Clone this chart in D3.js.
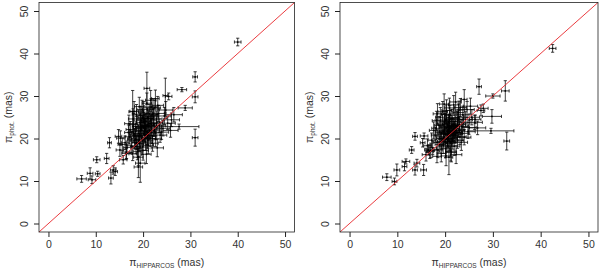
<!DOCTYPE html>
<html>
<head>
<meta charset="utf-8">
<script src="https://cdn.jsdelivr.net/npm/d3@7"></script>
<style>
  body { margin: 0; background: #fff; }
  svg { display: block; font-family: "Liberation Sans", Arial, sans-serif; }
</style>
</head>
<body>
<svg></svg>
<script>
// [x, y, xErr, yErr] in mas
const leftStars = [
  [40.0, 42.7, 0.7, 0.9], [31.0, 34.5, 0.5, 1.2], [31.0, 29.8, 0.6, 1.4], [31.0, 20.2, 0.6, 2.0],
  [28.2, 31.5, 1.0, 0.5], [20.8, 31.8, 0.6, 3.8], [28.9, 27.2, 1.5, 0.6], [27.6, 22.8, 4.2, 0.6],
  [24.7, 30.1, 0.5, 4.1], [22.6, 29.4, 0.8, 2.0], [17.8, 26.3, 0.8, 5.0], [25.4, 29.9, 0.7, 0.8],
  [7.0, 10.5, 1.0, 0.8], [10.2, 15.0, 0.7, 0.7], [8.8, 11.8, 0.6, 1.3], [9.2, 10.3, 0.8, 0.9],
  [10.4, 11.7, 0.5, 0.6], [12.3, 15.3, 0.5, 1.2], [12.9, 19.0, 0.4, 1.2], [13.2, 10.7, 0.5, 1.4],
  [13.7, 12.6, 0.6, 1.0], [14.1, 12.2, 0.5, 0.9], [14.8, 20.5, 0.7, 1.6], [15.1, 17.3, 0.8, 1.5],
  [15.8, 15.0, 0.8, 1.0], [16.5, 16.5, 1.0, 1.2], [19.0, 13.3, 0.9, 2.5], [19.4, 14.2, 1.0, 4.5],
  [18.2, 19.5, 0.9, 1.8], [19.1, 21.2, 1.1, 2.0], [20.3, 22.4, 0.8, 1.6], [21.0, 23.1, 1.2, 2.2],
  [19.7, 20.1, 1.0, 1.9], [20.8, 21.6, 0.9, 1.7], [18.7, 22.8, 1.0, 2.4], [21.6, 24.3, 1.3, 2.1],
  [22.4, 22.0, 1.1, 1.5], [17.5, 18.3, 0.9, 1.6], [19.9, 24.9, 1.0, 2.3], [20.5, 19.2, 1.2, 2.0],
  [21.9, 20.6, 1.0, 1.8], [18.9, 17.6, 0.8, 2.1], [22.8, 24.6, 1.2, 1.9], [17.1, 20.4, 0.9, 1.7],
  [20.1, 26.2, 1.1, 2.5], [23.4, 23.0, 1.4, 1.6], [19.4, 23.8, 0.9, 2.0], [21.3, 25.8, 1.0, 2.2],
  [16.6, 17.9, 0.8, 1.5], [18.4, 21.7, 1.0, 1.9], [20.9, 20.3, 1.1, 1.7], [22.1, 26.9, 1.3, 2.4],
  [19.2, 18.8, 0.9, 1.8], [23.9, 21.5, 1.5, 1.7], [17.8, 16.4, 0.8, 1.6], [20.6, 24.0, 1.0, 1.8],
  [21.8, 22.7, 1.2, 2.0], [18.0, 23.3, 0.9, 2.6], [19.6, 22.3, 1.0, 1.9], [22.6, 19.9, 1.3, 1.8],
  [16.2, 19.0, 0.8, 1.6], [20.0, 17.2, 1.1, 2.3], [21.4, 21.9, 1.0, 1.6], [24.5, 25.3, 1.4, 2.0],
  [18.6, 25.7, 0.9, 2.3], [17.3, 22.1, 0.9, 1.9], [23.1, 27.8, 1.2, 2.1], [19.0, 15.6, 1.0, 2.0],
  [20.4, 23.0, 0.9, 1.7], [21.1, 18.4, 1.1, 2.0], [22.9, 23.8, 1.2, 1.8], [18.3, 20.6, 1.0, 1.7],
  [19.8, 26.8, 1.1, 2.2], [25.2, 23.6, 1.6, 1.5], [16.9, 21.4, 0.8, 1.8], [21.7, 27.4, 1.3, 2.0],
  [20.2, 21.0, 1.0, 1.8], [23.6, 20.8, 1.4, 1.7], [19.3, 19.7, 0.9, 1.9], [22.2, 25.1, 1.1, 2.1],
  [17.9, 24.6, 1.0, 2.4], [24.2, 22.4, 1.5, 1.8], [20.7, 16.3, 1.0, 2.2], [15.6, 18.6, 0.9, 1.5],
  [26.0, 24.4, 1.7, 1.6], [18.5, 18.1, 0.9, 1.7], [21.5, 20.0, 1.2, 1.9], [19.5, 25.4, 1.0, 2.2],
  [22.7, 21.3, 1.1, 1.6], [16.4, 16.8, 0.8, 1.7], [20.8, 28.3, 1.0, 2.4], [23.3, 25.9, 1.3, 1.9],
  [17.6, 19.9, 0.9, 1.8], [21.2, 24.7, 1.1, 2.0], [19.9, 18.0, 1.0, 1.8], [24.8, 26.7, 1.4, 2.0],
  [18.1, 26.4, 0.9, 2.3], [22.0, 18.9, 1.2, 1.9], [25.8, 21.9, 1.6, 1.6], [20.0, 22.9, 1.0, 1.8],
  [15.2, 20.1, 0.8, 1.7], [23.0, 17.8, 1.3, 2.1], [21.6, 29.0, 1.1, 2.3], [26.5, 25.6, 1.8, 1.7],
  [18.8, 16.9, 0.9, 1.9], [19.2, 27.5, 1.0, 2.2], [17.0, 23.5, 0.9, 2.0], [22.5, 27.2, 1.2, 1.8],
  [19.5, 21.9, 1.0, 1.8], [20.6, 22.8, 1.1, 1.9], [21.2, 21.4, 1.0, 1.7], [19.0, 20.6, 0.9, 1.8],
  [20.3, 23.7, 1.0, 2.0], [21.7, 23.4, 1.2, 1.9], [18.6, 19.1, 0.9, 1.7], [20.9, 25.1, 1.0, 2.1],
  [22.3, 23.5, 1.2, 1.8], [19.6, 24.3, 1.0, 2.2], [20.4, 20.7, 1.1, 1.8], [21.9, 25.6, 1.2, 2.0],
  [18.0, 21.0, 0.9, 1.9], [19.4, 22.6, 1.0, 2.0], [21.0, 19.6, 1.1, 1.9], [20.1, 24.6, 1.0, 2.1]
];

const rightStars = [
  [42.5, 41.2, 0.7, 0.9], [32.6, 31.2, 0.8, 2.4], [32.9, 19.4, 0.6, 2.1], [30.0, 30.0, 1.5, 0.5],
  [29.8, 25.2, 2.0, 1.6], [29.6, 21.8, 4.8, 0.6], [27.1, 32.2, 0.5, 1.8], [28.0, 27.1, 1.0, 1.0],
  [24.0, 29.2, 0.6, 2.3], [20.8, 15.6, 0.8, 4.1], [7.8, 10.9, 0.9, 0.8], [9.4, 9.9, 0.5, 0.8],
  [9.9, 12.6, 0.6, 1.4], [11.8, 14.6, 0.8, 0.6], [11.5, 13.4, 0.5, 1.0], [13.0, 17.3, 0.5, 0.8],
  [13.7, 20.5, 0.5, 0.9], [15.6, 20.6, 0.8, 0.7], [13.7, 12.6, 0.5, 1.2], [15.5, 12.6, 0.6, 1.3],
  [14.1, 14.2, 0.6, 0.9], [15.3, 19.0, 0.5, 1.0], [16.5, 17.3, 0.8, 1.2], [18.3, 15.8, 0.9, 1.5],
  [27.5, 26.6, 0.8, 1.3], [26.3, 24.5, 1.2, 1.0],
  [20.5, 21.8, 1.0, 1.9], [21.3, 22.6, 1.1, 2.1], [19.8, 20.4, 0.9, 1.8], [22.1, 24.0, 1.2, 2.0],
  [20.9, 19.3, 1.0, 2.2], [18.9, 21.5, 0.9, 1.7], [21.7, 20.7, 1.1, 1.8], [23.0, 23.3, 1.3, 1.9],
  [19.4, 23.4, 1.0, 2.3], [22.4, 21.4, 1.2, 1.6], [20.1, 17.6, 1.0, 2.1], [18.3, 19.1, 0.8, 1.7],
  [21.0, 25.4, 1.1, 2.4], [23.6, 21.2, 1.4, 1.7], [19.6, 18.4, 0.9, 1.9], [22.8, 26.1, 1.2, 2.0],
  [20.7, 23.9, 1.0, 1.8], [17.4, 17.8, 0.8, 1.6], [21.9, 18.2, 1.2, 2.2], [24.3, 24.5, 1.4, 1.8],
  [18.7, 23.1, 0.9, 2.1], [20.3, 26.6, 1.0, 2.5], [22.6, 19.6, 1.2, 1.9], [19.2, 16.5, 0.9, 2.0],
  [21.5, 23.0, 1.1, 1.7], [25.0, 22.6, 1.5, 1.6], [17.9, 20.8, 0.8, 1.8], [23.2, 27.3, 1.3, 2.1],
  [20.0, 21.0, 1.0, 1.9], [21.2, 17.0, 1.1, 2.3], [18.1, 22.4, 0.9, 2.0], [22.0, 22.3, 1.1, 1.7],
  [24.0, 20.3, 1.4, 1.8], [19.0, 25.0, 1.0, 2.3], [20.6, 20.0, 1.0, 1.8], [16.8, 16.9, 0.8, 1.6],
  [23.7, 25.6, 1.3, 2.0], [21.8, 27.9, 1.1, 2.2], [19.9, 22.7, 1.0, 1.9], [22.3, 16.2, 1.2, 2.1],
  [17.2, 19.6, 0.8, 1.7], [26.2, 23.8, 1.6, 1.7], [20.4, 18.9, 1.0, 2.0], [21.4, 24.8, 1.1, 2.0],
  [18.5, 17.3, 0.9, 1.8], [22.9, 22.0, 1.2, 1.7], [19.5, 26.3, 1.0, 2.4], [24.6, 26.8, 1.5, 1.9],
  [20.8, 22.2, 1.0, 1.8], [16.3, 18.3, 0.8, 1.6], [23.4, 19.1, 1.3, 1.9], [21.1, 21.2, 1.0, 1.7],
  [18.2, 24.2, 0.9, 2.2], [25.6, 25.0, 1.6, 1.8], [19.7, 19.9, 1.0, 1.9], [22.2, 28.6, 1.2, 2.3],
  [20.2, 15.9, 1.0, 2.3], [21.6, 19.4, 1.1, 1.9], [17.6, 21.9, 0.9, 2.0], [23.9, 23.7, 1.3, 1.8],
  [19.3, 21.3, 0.9, 1.8], [22.7, 24.9, 1.2, 2.0], [20.9, 27.2, 1.0, 2.3], [24.8, 21.6, 1.5, 1.6],
  [18.8, 18.6, 0.9, 1.8], [21.9, 21.7, 1.1, 1.7], [17.0, 17.2, 0.8, 1.7], [23.1, 20.4, 1.3, 1.8],
  [20.0, 24.3, 1.0, 2.1], [26.8, 22.5, 1.7, 1.6], [19.1, 20.0, 0.9, 1.9], [22.5, 23.1, 1.2, 1.8],
  [21.3, 16.7, 1.1, 2.2], [18.4, 25.8, 0.9, 2.4], [25.3, 27.6, 1.5, 1.9], [20.6, 23.2, 1.0, 1.8],
  [16.0, 16.2, 0.8, 1.5], [23.5, 22.8, 1.3, 1.7], [19.8, 28.1, 1.0, 2.4], [22.1, 20.9, 1.2, 1.8],
  [20.3, 22.5, 1.0, 1.8], [21.4, 20.1, 1.1, 1.9], [20.9, 23.6, 1.0, 2.0], [19.7, 21.6, 0.9, 1.8],
  [21.8, 22.9, 1.2, 1.9], [20.5, 19.8, 1.0, 1.9], [22.2, 21.9, 1.2, 1.7], [21.0, 24.5, 1.1, 2.1],
  [19.3, 19.3, 0.9, 1.8], [20.2, 25.7, 1.0, 2.2], [21.6, 21.5, 1.1, 1.8], [22.6, 24.4, 1.2, 2.0],
  [19.9, 23.9, 1.0, 2.0], [21.2, 19.0, 1.1, 2.0], [20.7, 21.1, 1.0, 1.8], [22.9, 26.7, 1.2, 2.1]
];

const tickValues = [0, 10, 20, 30, 40, 50];
const axisRange = [-2, 52];
const xSub = "HIPPARCOS";
const ySub = "phot.";

const width = 600,
  height = 269;

const svg = d3.select("svg").attr("width", width).attr("height", height);

function panel(stars, box) {
  const g = svg.append("g");

  const x = d3.scaleLinear().domain(axisRange).range([box.left, box.right]);
  const y = d3.scaleLinear().domain(axisRange).range([box.bottom, box.top]);

  /////////////////////////////////////////////////////////////////////////////
  ////////////////               ERROR BARS                  //////////////////
  /////////////////////////////////////////////////////////////////////////////
  const cap = 1.6;
  const star = g
    .selectAll(".star")
    .data(stars)
    .enter()
    .append("g")
    .attr("class", "star")
    .attr("stroke", "#000")
    .attr("stroke-width", 0.75)
    .attr("fill", "none");

  star.append("path").attr("d", d => {
    const x0 = x(d[0] - d[2]),
      x1 = x(d[0] + d[2]),
      yy = y(d[1]);
    return (
      "M" + x0 + "," + yy + "H" + x1 +
      "M" + x0 + "," + (yy - cap) + "V" + (yy + cap) +
      "M" + x1 + "," + (yy - cap) + "V" + (yy + cap)
    );
  });

  star.append("path").attr("d", d => {
    const y0 = y(d[1] - d[3]),
      y1 = y(d[1] + d[3]),
      xx = x(d[0]);
    return (
      "M" + xx + "," + y0 + "V" + y1 +
      "M" + (xx - cap) + "," + y0 + "H" + (xx + cap) +
      "M" + (xx - cap) + "," + y1 + "H" + (xx + cap)
    );
  });

  star
    .append("circle")
    .attr("cx", d => x(d[0]))
    .attr("cy", d => y(d[1]))
    .attr("r", 0.9)
    .attr("fill", "#000")
    .attr("stroke", "none");

  // one to one line
  g.append("line")
    .attr("x1", x(axisRange[0]))
    .attr("y1", y(axisRange[0]))
    .attr("x2", x(axisRange[1]))
    .attr("y2", y(axisRange[1]))
    .attr("stroke", "#e8262a")
    .attr("stroke-width", 0.9);

  /////////////////////////////////////////////////////////////////////////////
  ////////////////                  AXES                     //////////////////
  /////////////////////////////////////////////////////////////////////////////
  const xAxis = g
    .append("g")
    .attr("transform", "translate(0," + box.bottom + ")")
    .call(d3.axisBottom(x).tickValues(tickValues).tickSize(5).tickPadding(4));
  xAxis.select(".domain").remove();
  xAxis.selectAll("line").attr("stroke", "#222");
  xAxis.selectAll("text").attr("font-size", 10.5).attr("fill", "#333").attr("font-family", null);

  const yAxis = g
    .append("g")
    .attr("transform", "translate(" + box.left + ",0)")
    .call(d3.axisLeft(y).tickValues(tickValues).tickSize(5));
  yAxis.select(".domain").remove();
  yAxis.selectAll("line").attr("stroke", "#222");
  yAxis
    .selectAll("text")
    .attr("x", null)
    .attr("dy", null)
    .attr("font-size", 10.5)
    .attr("fill", "#333")
    .attr("font-family", null)
    .attr("text-anchor", "middle")
    .attr("transform", "translate(-11,0) rotate(-90)");

  g.append("rect")
    .attr("x", box.left)
    .attr("y", box.top)
    .attr("width", box.right - box.left)
    .attr("height", box.bottom - box.top)
    .attr("fill", "none")
    .attr("stroke", "#222")
    .attr("stroke-width", 0.8);

  // axis titles
  const xt = g
    .append("text")
    .attr("x", (box.left + box.right) / 2)
    .attr("y", 266)
    .attr("text-anchor", "middle")
    .attr("font-size", 10.5)
    .attr("fill", "#333");
  xt.append("tspan").text("π");
  xt.append("tspan").attr("font-size", 6.5).attr("dy", 2).text(xSub);
  xt.append("tspan").attr("dy", -2).text(" (mas)");

  const yt = g
    .append("text")
    .attr("transform", "translate(" + (box.left - 27) + "," + (box.top + box.bottom) / 2 + ") rotate(-90)")
    .attr("text-anchor", "middle")
    .attr("font-size", 10.5)
    .attr("fill", "#333");
  yt.append("tspan").text("π");
  yt.append("tspan").attr("font-size", 6.5).attr("dy", 2).text(ySub);
  yt.append("tspan").attr("dy", -2).text(" (mas)");
}

panel(leftStars, { left: 39, right: 294.5, top: 2.5, bottom: 232 });
panel(rightStars, { left: 340, right: 598, top: 2.5, bottom: 232 });
</script>
</body>
</html>
